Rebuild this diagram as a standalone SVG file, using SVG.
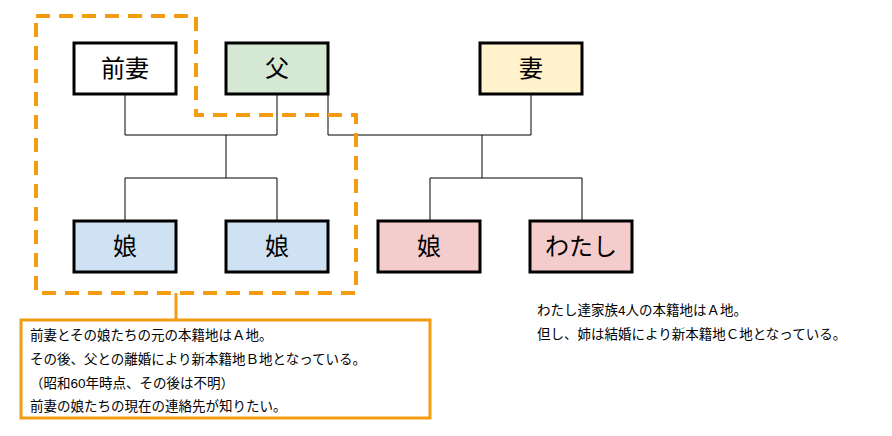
<svg xmlns="http://www.w3.org/2000/svg" width="892" height="436" viewBox="0 0 892 436">
<style>
.n{stroke:#000;stroke-width:3}
.t{font-family:"Liberation Sans","Noto Sans CJK JP",sans-serif;font-size:24px;text-anchor:middle;fill:#000}
.s{font-family:"Liberation Sans","Noto Sans CJK JP",sans-serif;font-size:13.5px;fill:#000}
.l{stroke:#000;stroke-width:1;fill:none}
</style>
<rect width="892" height="436" fill="#fff"/>
<g id="connectors">
<path class="l" d="M125 94V135H277M277 94V135M226 135V178M125 221V178H277V221"/>
<path class="l" d="M328 94V135H531M531 94V135M482 135V178M430 221V178H582V221"/>
<path d="M176 293V320" stroke="#f39c12" stroke-width="3" fill="none"/>
</g>
<g id="group">
<path d="M36 16H196V115H356V293H36Z" fill="none" stroke="#f39c12" stroke-width="4" stroke-dasharray="14,9"/>
</g>
<g id="n1"><rect class="n" x="74" y="43" width="102" height="51" fill="#fff"/><text class="t" x="125" y="77">前妻</text></g>
<g id="n2"><rect class="n" x="226" y="43" width="102" height="51" fill="#d5e8d4"/><text class="t" x="277" y="77">父</text></g>
<g id="n3"><rect class="n" x="480" y="43" width="102" height="51" fill="#fff2cc"/><text class="t" x="531" y="77">妻</text></g>
<g id="n4"><rect class="n" x="74" y="221" width="102" height="51" fill="#cfe2f3"/><text class="t" x="125" y="255">娘</text></g>
<g id="n5"><rect class="n" x="226" y="221" width="102" height="51" fill="#cfe2f3"/><text class="t" x="277" y="255">娘</text></g>
<g id="n6"><rect class="n" x="378" y="221" width="102" height="51" fill="#f4cccc"/><text class="t" x="429" y="255">娘</text></g>
<g id="n7"><rect class="n" x="530" y="221" width="102" height="51" fill="#f4cccc"/><text class="t" x="581" y="255">わたし</text></g>
<g id="note">
<rect x="21" y="320" width="409" height="98" fill="#fff" stroke="#f39c12" stroke-width="3"/>
<text class="s" x="30" y="340">前妻とその娘たちの元の本籍地はＡ地。</text>
<text class="s" x="30" y="364">その後、父との離婚により新本籍地Ｂ地となっている。</text>
<text class="s" x="30" y="388">（昭和60年時点、その後は不明）</text>
<text class="s" x="30" y="411" fill="#e0201b">前妻の娘たちの現在の連絡先が知りたい。</text>
</g>
<g id="info">
<text class="s" x="537" y="315">わたし達家族4人の本籍地はＡ地。</text>
<text class="s" x="537" y="339">但し、姉は結婚により新本籍地Ｃ地となっている。</text>
</g>
</svg>
